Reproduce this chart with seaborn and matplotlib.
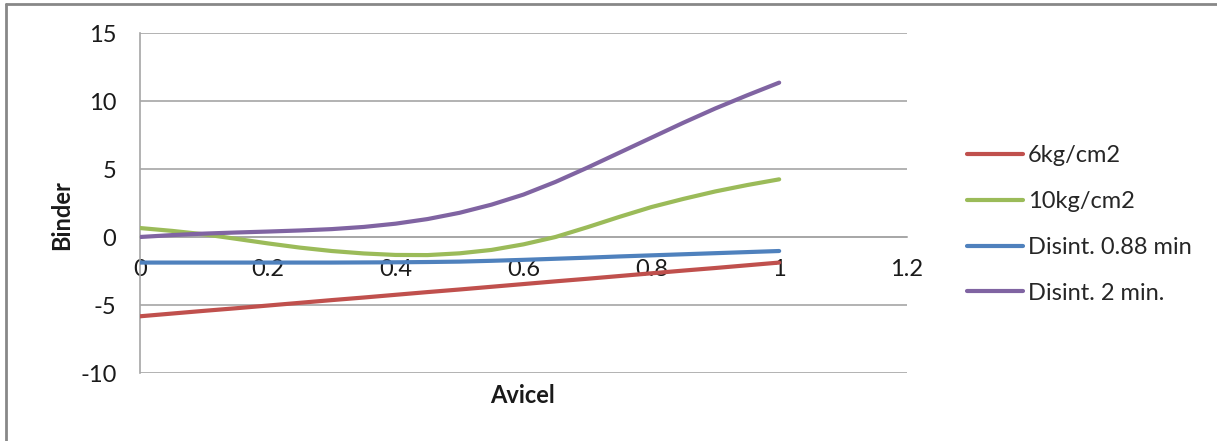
import matplotlib
matplotlib.use("Agg")
import matplotlib.pyplot as plt
from matplotlib.lines import Line2D
import pandas as pd
import seaborn as sns

# Avicel fraction (x) and the binder response for each property
avicel = [0.00, 0.05, 0.10, 0.15, 0.20, 0.25, 0.30, 0.35, 0.40, 0.45, 0.50,
          0.55, 0.60, 0.65, 0.70, 0.75, 0.80, 0.85, 0.90, 0.95, 1.00]
hardness_6 = [-5.83, -5.63, -5.43, -5.24, -5.04, -4.84, -4.64, -4.45, -4.25, -4.05, -3.86,
              -3.66, -3.46, -3.26, -3.07, -2.87, -2.67, -2.47, -2.28, -2.08, -1.88]
hardness_10 = [0.66, 0.45, 0.20, -0.13, -0.47, -0.78, -1.03, -1.21, -1.32, -1.33, -1.20,
               -0.95, -0.54, 0.00, 0.72, 1.48, 2.20, 2.80, 3.35, 3.82, 4.24]
disint_088 = [-1.88, -1.88, -1.88, -1.88, -1.88, -1.88, -1.88, -1.87, -1.86, -1.84, -1.81,
              -1.75, -1.68, -1.60, -1.52, -1.43, -1.35, -1.27, -1.19, -1.11, -1.03]
disint_2 = [0.00, 0.14, 0.25, 0.33, 0.40, 0.48, 0.58, 0.74, 0.98, 1.32, 1.78,
            2.38, 3.12, 4.05, 5.10, 6.20, 7.30, 8.40, 9.45, 10.42, 11.35]

series_names = ["6kg/cm2", "10kg/cm2", "Disint. 0.88 min", "Disint. 2 min."]
series_values = [hardness_6, hardness_10, disint_088, disint_2]
series_colors = ["#C0504D", "#9BBB59", "#4F81BD", "#8064A2"]

x_ticks = [0, 0.2, 0.4, 0.6, 0.8, 1, 1.2]
x_tick_labels = ["0", "0.2", "0.4", "0.6", "0.8", "1", "1.2"]
y_ticks = [-10, -5, 0, 5, 10, 15]

frames = [pd.DataFrame({"Avicel": avicel, "Binder": vals, "series": name})
          for name, vals in zip(series_names, series_values)]
df = pd.concat(frames, ignore_index=True)

sns.set_theme(style="white")
plt.rcParams["font.family"] = ["Lato", "DejaVu Sans"]

fig = plt.figure(figsize=(12.17, 4.41), dpi=100)
ax = fig.add_axes([140 / 1217, 1 - 373 / 441, 767 / 1217, 340 / 441])

sns.lineplot(data=df, x="Avicel", y="Binder", hue="series",
             hue_order=series_names, palette=series_colors,
             linewidth=3.0, ax=ax, zorder=3,
             solid_capstyle="round", solid_joinstyle="round")

ax.set_xlim(0, 1.2)
ax.set_ylim(-10, 15)
ax.set_xticks(x_ticks)
ax.set_xticklabels(x_tick_labels)
ax.set_yticks(y_ticks)
ax.set_yticklabels([str(t) for t in y_ticks])

grid_color = "#A6A6A6"
ax.yaxis.grid(True, color=grid_color, linewidth=1.2)
ax.xaxis.grid(False)
for side in ["top", "right"]:
    ax.spines[side].set_visible(False)
ax.spines["left"].set_color(grid_color)
ax.spines["left"].set_linewidth(1.2)
ax.spines["bottom"].set_position(("data", 0))
ax.spines["bottom"].set_color(grid_color)
ax.spines["bottom"].set_linewidth(1.2)

ax.tick_params(axis="both", length=0, labelsize=17, colors="#1A1A1A")
ax.tick_params(axis="x", pad=16)
ax.tick_params(axis="y", pad=17)

ax.set_xlabel("Avicel", fontsize=17, fontweight="bold", color="#1A1A1A")
ax.set_ylabel("Binder", fontsize=17, fontweight="bold", color="#1A1A1A")
ax.xaxis.set_label_coords((523 - 140) / 767, (373 - 384) / 340)
ax.yaxis.set_label_coords((73 - 140) / 767, (373 - 215) / 340)

handles, labels = ax.get_legend_handles_labels()
ax.legend(handles=handles, labels=labels, loc="center left",
          bbox_to_anchor=(958 / 1217, 1 - 224.5 / 441),
          bbox_transform=fig.transFigure, frameon=False,
          fontsize=17, handlelength=2.35, handletextpad=0.2,
          labelspacing=1.05, borderaxespad=0)
for line in ax.get_legend().get_lines():
    line.set_linewidth(3.0)
    line.set_solid_capstyle("round")

# chart-area border (top and left edges)
fig.add_artist(Line2D([5.5 / 1217, 5.5 / 1217], [0, 1 - 3.5 / 441],
                      transform=fig.transFigure, color="#888888", linewidth=2))
fig.add_artist(Line2D([5.5 / 1217, 1], [1 - 3.5 / 441, 1 - 3.5 / 441],
                      transform=fig.transFigure, color="#888888", linewidth=2))

fig.savefig("out.png", dpi=100)
